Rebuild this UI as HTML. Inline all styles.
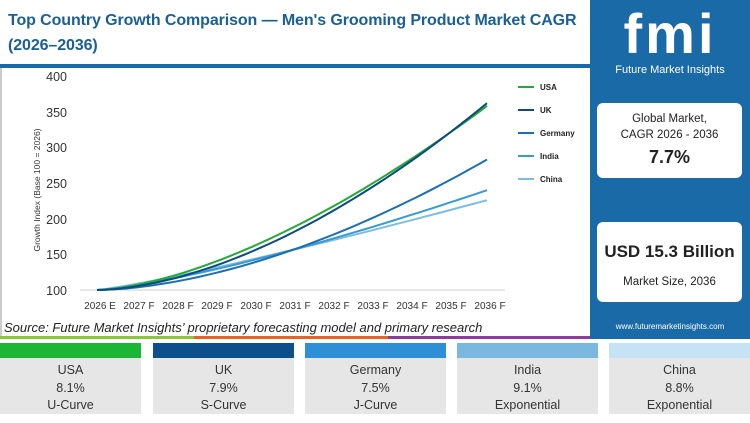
<!DOCTYPE html><html><head><meta charset="utf-8"><style>
body{margin:0;width:750px;height:423px;position:relative;background:#fff;font-family:"Liberation Sans",sans-serif;overflow:hidden}
.t{position:absolute;left:8px;top:8px;font-size:16px;font-weight:bold;color:#1a5f96;line-height:25px;letter-spacing:-0.1px}
.card{position:absolute;top:343px;width:141px;height:71px;background:#e6e6e6;text-align:center;font-size:12.5px;color:#333}
.card .b{height:15px}
.card div.l{line-height:17.5px}
</style></head><body>
<div class="t">Top Country Growth Comparison — Men's Grooming Product Market CAGR<br>(2026–2036)</div>
<div style="position:absolute;left:0;top:64px;width:590px;height:4px;background:#1a6aa8"></div>
<div style="position:absolute;left:0;top:68px;width:2px;height:270px;background:#ccc"></div>
<svg style="position:absolute;left:0;top:0" width="590" height="340" id="s">
<g font-size="12.5" fill="#333" text-anchor="end" font-family="Liberation Sans">
<text x="67" y="81">400</text><text x="67" y="117">350</text><text x="67" y="152">300</text><text x="67" y="188">250</text><text x="67" y="224">200</text><text x="67" y="259">150</text><text x="67" y="295">100</text></g>
<text transform="translate(40,190) rotate(-90)" font-size="8.5" fill="#333" text-anchor="middle">Growth Index (Base 100 = 2026)</text>
<line x1="80" y1="290" x2="505" y2="290" stroke="#ccc"/>
<g id="xt" font-size="10" fill="#333" text-anchor="middle"></g>
<g id="ln" fill="none" stroke-width="2"></g>
<g font-size="8" font-weight="bold" fill="#222">
<line x1="518" y1="87" x2="534" y2="87" stroke="#22aa33" stroke-width="2"/><text x="540" y="90">USA</text>
<line x1="518" y1="110" x2="534" y2="110" stroke="#0d4a80" stroke-width="2"/><text x="540" y="113">UK</text>
<line x1="518" y1="133" x2="534" y2="133" stroke="#1e6fb0" stroke-width="2"/><text x="540" y="136">Germany</text>
<line x1="518" y1="156" x2="534" y2="156" stroke="#3a9ad0" stroke-width="2"/><text x="540" y="159">India</text>
<line x1="518" y1="179" x2="534" y2="179" stroke="#7bbde6" stroke-width="2"/><text x="540" y="182">China</text>
</g>
<text x="4" y="332" font-size="13" font-style="italic" fill="#222">Source: Future Market Insights’ proprietary forecasting model and primary research</text>
<rect x="0" y="336" width="194" height="3" fill="#8cc63f"/><rect x="194" y="336" width="194" height="3" fill="#e8622a"/><rect x="388" y="336" width="202" height="3" fill="#8e3a9e"/>
</svg>
<div style="position:absolute;left:590px;top:0;width:160px;height:339px;background:#1a6aa8;color:#fff;text-align:center">
<div style="font-size:56px;font-weight:bold;line-height:56px;margin-top:6px;font-family:'Liberation Sans',sans-serif;letter-spacing:3px">fmi</div>
<div style="font-size:11px;margin-top:2px">Future Market Insights</div>
<div style="position:absolute;left:7px;top:103px;width:145px;height:75px;background:#fff;border-radius:6px;color:#222;font-size:11.5px;line-height:16px"><div style="margin-top:8px">Global Market,<br>CAGR 2026 - 2036</div><div style="font-size:18px;font-weight:bold;margin-top:6px">7.7%</div></div>
<div style="position:absolute;left:7px;top:222px;width:145px;height:80px;background:#fff;border-radius:6px;color:#222"><div style="font-size:17px;font-weight:bold;margin-top:20px">USD 15.3 Billion</div><div style="font-size:11.5px;margin-top:14px">Market Size, 2036</div></div>
<div style="position:absolute;top:322px;width:160px;font-size:8px">www.futuremarketinsights.com</div>
</div>
<div class="card" style="left:0"><div class="b" style="background:#1db535"></div><div class="l" style="margin-top:4px">USA</div><div class="l">8.1%</div><div class="l">U-Curve</div></div>
<div class="card" style="left:153px"><div class="b" style="background:#0d4f8b"></div><div class="l" style="margin-top:4px">UK</div><div class="l">7.9%</div><div class="l">S-Curve</div></div>
<div class="card" style="left:305px"><div class="b" style="background:#2e8fd6"></div><div class="l" style="margin-top:4px">Germany</div><div class="l">7.5%</div><div class="l">J-Curve</div></div>
<div class="card" style="left:457px"><div class="b" style="background:#7ab8e0"></div><div class="l" style="margin-top:4px">India</div><div class="l">9.1%</div><div class="l">Exponential</div></div>
<div class="card" style="left:609px"><div class="b" style="background:#c5e3f5"></div><div class="l" style="margin-top:4px">China</div><div class="l">8.8%</div><div class="l">Exponential</div></div>
<script>
var xt=document.getElementById('xt'),ln=document.getElementById('ln'),ns='http://www.w3.org/2000/svg';
function X(i){return 97+i*39}
for(var i=0;i<=10;i++){var t=document.createElementNS(ns,'text');t.setAttribute('x',X(i)+3);t.setAttribute('y',309);t.textContent=(2026+i)+(i?' F':' E');xt.appendChild(t);}
var S=[["#7bbde6",126,1.17],["#3a9ad0",140,1.32],["#1e6fb0",183,1.71],["#22aa33",258,1.57],["#0d4a80",262,1.71]];
S.forEach(function(s){var d='';for(var k=0;k<=50;k++){var t=k/5,v=100+s[1]*Math.pow(t/10,s[2]);d+=(k?'L':'M')+(97+t*39).toFixed(1)+','+(290-(v-100)*0.713).toFixed(1);}
var p=document.createElementNS(ns,'path');p.setAttribute('d',d);p.setAttribute('stroke',s[0]);ln.appendChild(p);});
</script>
</body></html>
